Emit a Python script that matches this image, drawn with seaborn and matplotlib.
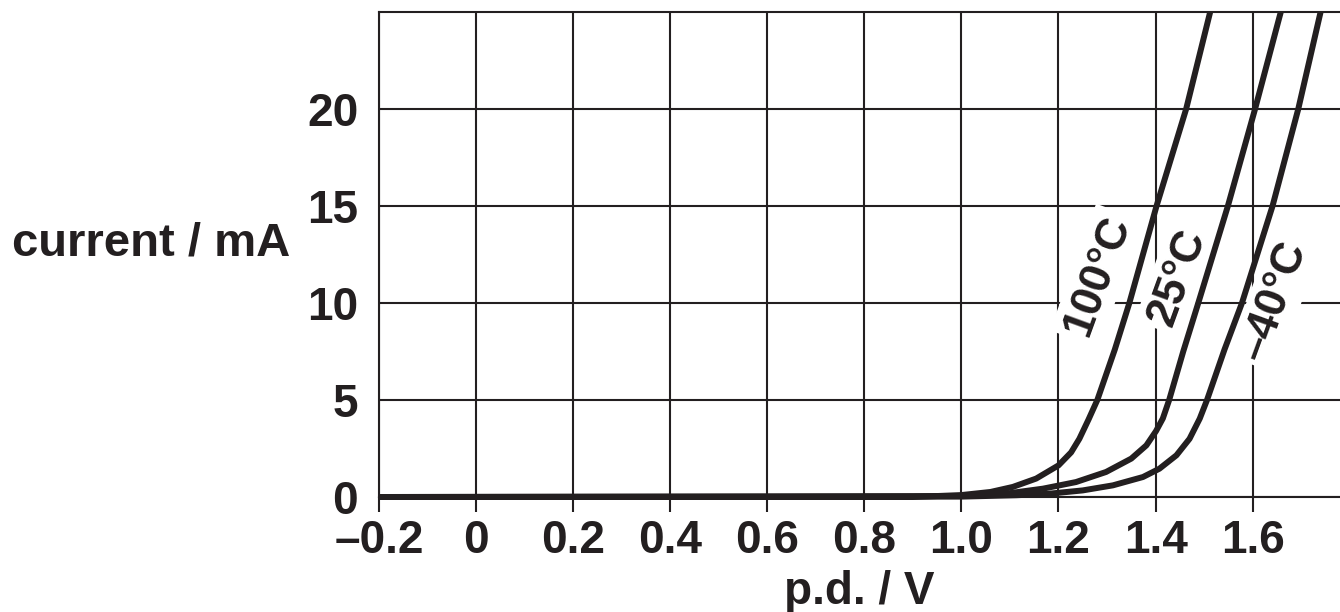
import matplotlib
matplotlib.use("Agg")
import matplotlib.pyplot as plt
import numpy as np
import pandas as pd
import seaborn as sns

# Forward characteristic of an LED at three temperatures
temps = ["100°C", "25°C", "–40°C"]

pd_100 = [-0.2, 0.9, 1.0, 1.06, 1.106, 1.154, 1.20, 1.226, 1.243, 1.262, 1.28,
          1.316, 1.346, 1.402, 1.463, 1.5125]
cur_100 = [0.0, 0.0, 0.1, 0.26, 0.52, 0.95, 1.63, 2.3, 3.0, 4.0, 5.0,
           7.6, 10.0, 15.0, 20.0, 25.0]

pd_25 = [-0.2, 1.0, 1.10, 1.168, 1.236, 1.298, 1.35, 1.381, 1.401, 1.415, 1.428,
         1.457, 1.488, 1.549, 1.605, 1.658]
cur_25 = [0.0, 0.05, 0.2, 0.43, 0.77, 1.29, 1.98, 2.66, 3.4, 4.05, 5.0,
          7.5, 10.0, 15.0, 20.0, 25.0]

pd_m40 = [-0.2, 1.0, 1.113, 1.181, 1.25, 1.312, 1.374, 1.408, 1.443, 1.47, 1.491,
          1.506, 1.542, 1.578, 1.641, 1.694, 1.740]
cur_m40 = [0.0, 0.02, 0.09, 0.17, 0.34, 0.6, 1.03, 1.46, 2.15, 3.0, 4.04,
           5.0, 7.6, 10.0, 15.0, 20.0, 25.0]

# Where each temperature tag sits (p.d., current)
tag_pd = [1.280, 1.445, 1.645]
tag_cur = [11.4, 11.3, 10.1]

x_ticks = [-0.2, 0.0, 0.2, 0.4, 0.6, 0.8, 1.0, 1.2, 1.4, 1.6]
x_tick_labels = ["–0.2", "0", "0.2", "0.4", "0.6", "0.8", "1.0", "1.2", "1.4", "1.6"]
y_ticks = [0, 5, 10, 15, 20]
y_tick_labels = ["0", "5", "10", "15", "20"]

INK = "#231f20"

sns.set_style("white")
plt.rcParams["font.family"] = ["Liberation Sans", "DejaVu Sans"]
plt.rcParams["font.weight"] = "bold"
plt.rcParams["lines.solid_capstyle"] = "butt"
plt.rcParams["lines.solid_joinstyle"] = "round"

df = pd.concat(
    [
        pd.DataFrame({"pd": pd_100, "current": cur_100, "temp": temps[0]}),
        pd.DataFrame({"pd": pd_25, "current": cur_25, "temp": temps[1]}),
        pd.DataFrame({"pd": pd_m40, "current": cur_m40, "temp": temps[2]}),
    ],
    ignore_index=True,
)

fig = plt.figure(figsize=(13.4, 6.12), dpi=100)
ax = fig.add_axes([379 / 1340, (612 - 497) / 612, 961 / 1340, 485 / 612])

sns.lineplot(
    data=df, x="pd", y="current", units="temp", estimator=None, sort=False,
    color=INK, lw=4.3, legend=False, ax=ax, zorder=4, clip_on=False,
)

ax.set_xlim(-0.2, 1.78)
ax.set_ylim(0, 25)
ax.set_xticks(x_ticks)
ax.set_xticklabels(x_tick_labels)
ax.set_yticks(y_ticks)
ax.set_yticklabels(y_tick_labels)

ax.grid(True, color=INK, lw=1.5)
ax.set_axisbelow(True)
for side in ["left", "top", "bottom"]:
    ax.spines[side].set_color(INK)
    ax.spines[side].set_linewidth(1.5)
ax.spines["right"].set_visible(False)

ax.tick_params(axis="x", bottom=True, length=11, width=1.5, color=INK,
               direction="out", pad=5, labelsize=33, labelcolor=INK)
ax.tick_params(axis="y", left=False, length=0, pad=15, labelsize=33, labelcolor=INK)

ax.set_xlabel("p.d. / V", fontsize=33, fontweight="bold", color=INK)
ax.xaxis.set_label_coords(0.5, (497 - 570) / 485)
ax.set_ylabel("current / mA", fontsize=34, fontweight="bold", color=INK,
              rotation=0, ha="center", va="center")
ax.yaxis.set_label_coords((151 - 379) / 961, (497 - 243) / 485)

for label, x, y in zip(temps, tag_pd, tag_cur):
    ax.text(x, y, label, rotation=70, rotation_mode="anchor", ha="center", va="center",
            fontsize=32, fontweight="bold", color=INK, zorder=3,
            bbox=dict(boxstyle="square,pad=0.12", fc="white", ec="none"))

fig.savefig("out.png", dpi=100, facecolor="white")
